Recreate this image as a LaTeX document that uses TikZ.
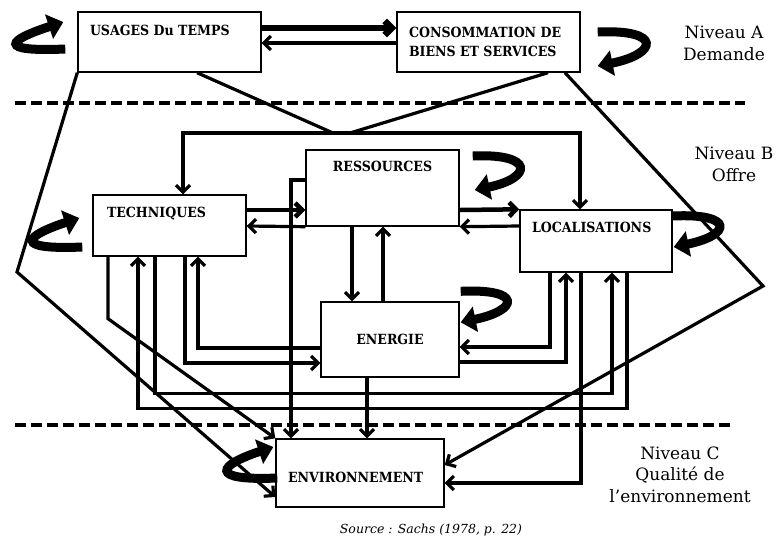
\documentclass[tikz,border=0pt]{standalone}
\usepackage{fontspec}
\setmainfont{DejaVu Serif}
\IfFontExistsTF{DejaVu Serif Condensed}
  {\newfontfamily\boxfont{DejaVu Serif Condensed}}
  {\newfontfamily\boxfont{Liberation Serif}}
\usetikzlibrary{arrows.meta}

\begin{document}
\begin{tikzpicture}[x=1pt, y=-1pt, line width=3.2pt,
      >={Straight Barb[length=7pt, width=14pt]}, ->,
      box/.style={draw, line width=1.4pt, inner sep=0pt, align=flush left,
        font=\boxfont\bfseries\fontsize{14}{19}\selectfont},
      big/.style={line width=4.5pt},
      curl/.style={line width=9pt, -{Triangle[length=15pt, width=25pt]}},
      divider/.style={-, line width=3.8pt, dash pattern=on 11pt off 5pt},
      niveau/.style={align=center, font=\fontsize{17}{21.5}\selectfont}]
      \useasboundingbox (0,0) rectangle (776,539);
      % levels
      \draw[divider] (15,103) -- (745,103);
      \draw[divider] (15,425) -- (735,425);
      \node[niveau](nivA) at(724,43.5) {Niveau A\\Demande};
      \node[niveau](nivB) at(734,164.5) {Niveau B\\Offre};
      \node[niveau](nivC) at(680,474.5) {Niveau C\\Qualité de\\l’environnement};
      % level A: usages, conso
      \node[box, minimum height=60pt, text width=159pt, inner xsep=12pt,
        text height=10pt, text depth=24pt](usages) at(169.5,42) {USAGES Du TEMPS};
      \node[box, minimum height=60pt, text width=159pt, inner xsep=12pt](conso) at(488.5,42)
        {CONSOMMATION DE\\BIENS ET SERVICES};
      \path ([yshift=14pt]usages.east) edge[line width=6.5pt] ([yshift=14pt]conso.west);
      \path ([yshift=-1pt]conso.west) edge ([yshift=-1pt]usages.east);
      \draw[curl] ([shift={(-12,7)}]usages.west) .. controls +(-70,3) and +(-55,18) .. ([shift={(-14,-20)}]usages.west);
      \draw[curl] ([shift={(17,-10)}]conso.east) .. controls +(65,-3) and +(60,-12) .. ([shift={(17,24)}]conso.east);
      % level B: techniques, ressources, localisations, energie
      \node[box, minimum height=61pt, text width=125pt, inner xsep=14pt,
        text height=10pt, text depth=27pt](tech) at(169.5,225.5) {TECHNIQUES};
      \node[box, minimum height=76pt, text width=153pt, align=center,
        text height=10pt, text depth=44pt](ress) at(382.5,188) {RESSOURCES};
      \node[box, minimum height=62pt, text width=128pt, inner xsep=12pt,
        text height=10pt, text depth=28pt](loc) at(596,241) {LOCALISATIONS};
      \node[box, minimum height=75pt, minimum width=138pt](ener) at(390,339.5) {ENERGIE};
      \draw[curl] ([shift={(-10,21.5)}]tech.west) .. controls +(-70,3) and +(-55,18) .. ([shift={(-13,-7.5)}]tech.west);
      \draw[curl] ([shift={(13,-32)}]ress.east) .. controls +(62,-3) and +(58,-12) .. ([shift={(15,2)}]ress.east);
      \draw[curl] ([shift={(0,-25)}]loc.east) .. controls +(62,-3) and +(58,-12) .. ([shift={(1,6)}]loc.east);
      \draw[curl] ([shift={(1,-10)}]ener.north east) .. controls +(62,-3) and +(58,-12) .. ([shift={(1,21)}]ener.north east);
      % A to B
      \coordinate (busL) at(333,133);
      \coordinate (busR) at(350,133);
      \draw[-] ([xshift=27.5pt]usages.south) -- (busL);
      \draw[-] ([xshift=59.5pt]conso.south) -- (busR);
      \draw[<->] ([xshift=13.5pt]tech.north) |- (busL) -| ([xshift=-16pt]loc.north);
      % inside B
      \path ([yshift=15.5pt]tech.east) edge[big] ([yshift=-22pt]ress.west);
      \path (ress.south west) edge ([yshift=-0.5pt]tech.east);
      \path ([yshift=-22pt]ress.east) edge[big] (loc.north west);
      \path ([yshift=15pt]loc.west) edge (ress.south east);
      \path ([xshift=-30.5pt]ress.south) edge ([xshift=-38pt]ener.north);
      \path ([xshift=-7pt]ener.north) edge ([xshift=0.5pt]ress.south);
      \draw ([xshift=15.5pt]tech.south) |- ([yshift=-23.5pt]ener.west);
      \draw ([yshift=-8.5pt]ener.west) -| ([xshift=28.5pt]tech.south);
      \draw ([xshift=-46pt]loc.south) |- ([yshift=-7.5pt]ener.east);
      \draw ([yshift=-22.5pt]ener.east) -| ([xshift=-30pt]loc.south);
      \draw ([xshift=-14.5pt]tech.south) -- ++(0,137) -| ([xshift=16pt]loc.south);
      \draw ([xshift=31pt]loc.south) -- ++(0,136) -| ([xshift=-31.5pt]tech.south);
      % level C: environnement
      \node[box, minimum height=68pt, text width=144pt, inner xsep=12pt,
        text height=21pt, text depth=3pt](env) at(360,473) {ENVIRONNEMENT};
      \draw[curl] ([shift={(2,5)}]env.west) .. controls +(-70,3) and +(-55,18) .. ([shift={(-2,-26)}]env.west);
      \coordinate (bendW) at(17,272);
      \coordinate (bendE) at(763,286);
      \draw (usages.south west) -- (bendW) -- ([yshift=-24pt]env.west);
      \draw ([xshift=76.5pt]conso.south) -- (bendE) -- ([yshift=8pt]env.east);
      \draw ([xshift=-61.5pt]tech.south) -- ++(0,62) -- (env.north west);
      \draw ([yshift=8pt]ress.west) -| ([xshift=-69pt]env.north);
      \path ([xshift=-23pt]ener.south) edge ([xshift=7pt]env.north);
      \draw ([xshift=-15pt]loc.south) |- ([yshift=-10pt]env.east);
      % source
      \node[font=\itshape\fontsize{12.5}{14}\selectfont](src) at(431,530) {Source : Sachs (1978, p. 22)};
\end{tikzpicture}
\end{document}
